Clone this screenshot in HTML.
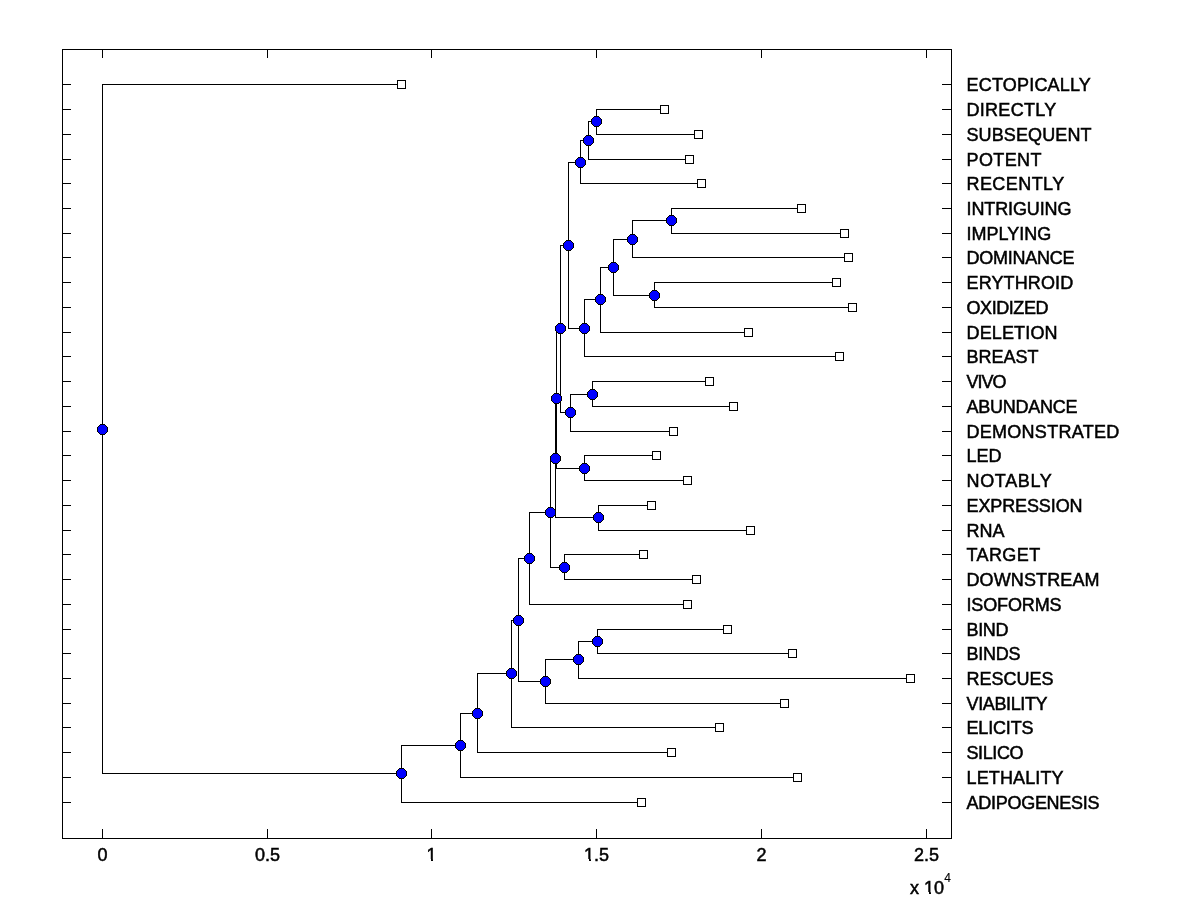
<!DOCTYPE html>
<html><head><meta charset="utf-8"><title>Phylogenetic tree</title>
<style>
html,body{margin:0;padding:0;background:#fff;}
body{width:1200px;height:900px;overflow:hidden;}
svg{display:block;}
text{font-family:"Liberation Sans",sans-serif;font-size:18px;fill:#000;stroke:#000;stroke-width:0.5px;}
</style></head><body>
<svg width="1200" height="900" viewBox="0 0 1200 900">
<rect x="0" y="0" width="1200" height="900" fill="#fff"/>
<path d="M62.5 49.5H951.5V838.5H62.5ZM102.5 838.5V829.5M102.5 49.5V57.5M267.5 838.5V829.5M267.5 49.5V57.5M431.5 838.5V829.5M431.5 49.5V57.5M596.5 838.5V829.5M596.5 49.5V57.5M761.5 838.5V829.5M761.5 49.5V57.5M926.5 838.5V829.5M926.5 49.5V57.5M62.5 84.5H70.5M951.5 84.5H942.5M62.5 109.5H70.5M951.5 109.5H942.5M62.5 134.5H70.5M951.5 134.5H942.5M62.5 159.5H70.5M951.5 159.5H942.5M62.5 183.5H70.5M951.5 183.5H942.5M62.5 208.5H70.5M951.5 208.5H942.5M62.5 233.5H70.5M951.5 233.5H942.5M62.5 257.5H70.5M951.5 257.5H942.5M62.5 282.5H70.5M951.5 282.5H942.5M62.5 307.5H70.5M951.5 307.5H942.5M62.5 332.5H70.5M951.5 332.5H942.5M62.5 356.5H70.5M951.5 356.5H942.5M62.5 381.5H70.5M951.5 381.5H942.5M62.5 406.5H70.5M951.5 406.5H942.5M62.5 431.5H70.5M951.5 431.5H942.5M62.5 455.5H70.5M951.5 455.5H942.5M62.5 480.5H70.5M951.5 480.5H942.5M62.5 505.5H70.5M951.5 505.5H942.5M62.5 530.5H70.5M951.5 530.5H942.5M62.5 554.5H70.5M951.5 554.5H942.5M62.5 579.5H70.5M951.5 579.5H942.5M62.5 604.5H70.5M951.5 604.5H942.5M62.5 629.5H70.5M951.5 629.5H942.5M62.5 653.5H70.5M951.5 653.5H942.5M62.5 678.5H70.5M951.5 678.5H942.5M62.5 703.5H70.5M951.5 703.5H942.5M62.5 727.5H70.5M951.5 727.5H942.5M62.5 752.5H70.5M951.5 752.5H942.5M62.5 777.5H70.5M951.5 777.5H942.5M62.5 802.5H70.5M951.5 802.5H942.5" fill="none" stroke="#000" stroke-width="1" stroke-linecap="square" shape-rendering="crispEdges"/>
<path d="M596.5 109.5V134.5M596.5 109.5H664.5M596.5 134.5H698.5M588.5 121.5V159.5M588.5 121.5H596.5M588.5 159.5H689.5M580.5 140.5V183.5M580.5 140.5H588.5M580.5 183.5H701.5M671.5 208.5V233.5M671.5 208.5H801.5M671.5 233.5H844.5M632.5 220.5V257.5M632.5 220.5H671.5M632.5 257.5H848.5M654.5 282.5V307.5M654.5 282.5H836.5M654.5 307.5H852.5M613.5 239.5V295.5M613.5 239.5H632.5M613.5 295.5H654.5M600.5 267.5V332.5M600.5 267.5H613.5M600.5 332.5H748.5M584.5 299.5V356.5M584.5 299.5H600.5M584.5 356.5H839.5M568.5 162.5V328.5M568.5 162.5H580.5M568.5 328.5H584.5M592.5 381.5V406.5M592.5 381.5H709.5M592.5 406.5H733.5M570.5 394.5V431.5M570.5 394.5H592.5M570.5 431.5H673.5M560.5 245.5V412.5M560.5 245.5H568.5M560.5 412.5H570.5M584.5 455.5V480.5M584.5 455.5H656.5M584.5 480.5H687.5M556.5 328.5V468.5M556.5 328.5H560.5M556.5 468.5H584.5M598.5 505.5V530.5M598.5 505.5H651.5M598.5 530.5H750.5M555.5 398.5V517.5M555.5 398.5H556.5M555.5 517.5H598.5M564.5 554.5V579.5M564.5 554.5H643.5M564.5 579.5H696.5M550.5 458.5V567.5M550.5 458.5H555.5M550.5 567.5H564.5M529.5 512.5V604.5M529.5 512.5H550.5M529.5 604.5H687.5M597.5 629.5V653.5M597.5 629.5H727.5M597.5 653.5H792.5M578.5 641.5V678.5M578.5 641.5H597.5M578.5 678.5H910.5M545.5 659.5V703.5M545.5 659.5H578.5M545.5 703.5H784.5M518.5 558.5V681.5M518.5 558.5H529.5M518.5 681.5H545.5M511.5 620.5V727.5M511.5 620.5H518.5M511.5 727.5H719.5M477.5 673.5V752.5M477.5 673.5H511.5M477.5 752.5H671.5M460.5 713.5V777.5M460.5 713.5H477.5M460.5 777.5H797.5M401.5 745.5V802.5M401.5 745.5H460.5M401.5 802.5H641.5M102.5 84.5V773.5M102.5 84.5H401.5M102.5 773.5H401.5" fill="none" stroke="#000" stroke-width="1" stroke-linecap="square" shape-rendering="crispEdges"/>
<defs><g id="mk" shape-rendering="crispEdges"><path d="M-2 -5H3V-4H4V-3H5V-2H6V3H5V4H4V5H3V6H-2V5H-3V4H-4V3H-5V-2H-4V-3H-3V-4H-2Z" fill="#000"/><path d="M-2 -4H3V-3H4V-2H5V3H4V4H3V5H-2V4H-3V3H-4V-2H-3V-3H-2Z" fill="#00f"/></g></defs>
<g><use href="#mk" x="596" y="121"/><use href="#mk" x="588" y="140"/><use href="#mk" x="580" y="162"/><use href="#mk" x="671" y="220"/><use href="#mk" x="632" y="239"/><use href="#mk" x="654" y="295"/><use href="#mk" x="613" y="267"/><use href="#mk" x="600" y="299"/><use href="#mk" x="584" y="328"/><use href="#mk" x="568" y="245"/><use href="#mk" x="592" y="394"/><use href="#mk" x="570" y="412"/><use href="#mk" x="560" y="328"/><use href="#mk" x="584" y="468"/><use href="#mk" x="556" y="398"/><use href="#mk" x="598" y="517"/><use href="#mk" x="555" y="458"/><use href="#mk" x="564" y="567"/><use href="#mk" x="550" y="512"/><use href="#mk" x="529" y="558"/><use href="#mk" x="597" y="641"/><use href="#mk" x="578" y="659"/><use href="#mk" x="545" y="681"/><use href="#mk" x="518" y="620"/><use href="#mk" x="511" y="673"/><use href="#mk" x="477" y="713"/><use href="#mk" x="460" y="745"/><use href="#mk" x="401" y="773"/><use href="#mk" x="102" y="429"/></g>
<g fill="#fff" stroke="#000" stroke-width="1" shape-rendering="crispEdges"><rect x="397.5" y="80.5" width="8" height="8"/><rect x="660.5" y="105.5" width="8" height="8"/><rect x="694.5" y="130.5" width="8" height="8"/><rect x="685.5" y="155.5" width="8" height="8"/><rect x="697.5" y="179.5" width="8" height="8"/><rect x="797.5" y="204.5" width="8" height="8"/><rect x="840.5" y="229.5" width="8" height="8"/><rect x="844.5" y="253.5" width="8" height="8"/><rect x="832.5" y="278.5" width="8" height="8"/><rect x="848.5" y="303.5" width="8" height="8"/><rect x="744.5" y="328.5" width="8" height="8"/><rect x="835.5" y="352.5" width="8" height="8"/><rect x="705.5" y="377.5" width="8" height="8"/><rect x="729.5" y="402.5" width="8" height="8"/><rect x="669.5" y="427.5" width="8" height="8"/><rect x="652.5" y="451.5" width="8" height="8"/><rect x="683.5" y="476.5" width="8" height="8"/><rect x="647.5" y="501.5" width="8" height="8"/><rect x="746.5" y="526.5" width="8" height="8"/><rect x="639.5" y="550.5" width="8" height="8"/><rect x="692.5" y="575.5" width="8" height="8"/><rect x="683.5" y="600.5" width="8" height="8"/><rect x="723.5" y="625.5" width="8" height="8"/><rect x="788.5" y="649.5" width="8" height="8"/><rect x="906.5" y="674.5" width="8" height="8"/><rect x="780.5" y="699.5" width="8" height="8"/><rect x="715.5" y="723.5" width="8" height="8"/><rect x="667.5" y="748.5" width="8" height="8"/><rect x="793.5" y="773.5" width="8" height="8"/><rect x="637.5" y="798.5" width="8" height="8"/></g>
<g style="filter:grayscale(1)"><text x="966.5" y="91" style="letter-spacing:0.200px">ECTOPICALLY</text><text x="966.5" y="116" style="letter-spacing:0.286px">DIRECTLY</text><text x="966.5" y="141" style="letter-spacing:0.111px">SUBSEQUENT</text><text x="966.5" y="166" style="letter-spacing:0.400px">POTENT</text><text x="966.5" y="190" style="letter-spacing:0.429px">RECENTLY</text><text x="966.5" y="215" style="letter-spacing:-0.111px">INTRIGUING</text><text x="966.5" y="240">IMPLYING</text><text x="966.5" y="264" style="letter-spacing:-0.250px">DOMINANCE</text><text x="966.5" y="289" style="letter-spacing:0.125px">ERYTHROID</text><text x="966.5" y="314" style="letter-spacing:-0.429px">OXIDIZED</text><text x="966.5" y="339" style="letter-spacing:0.143px">DELETION</text><text x="966.5" y="363">BREAST</text><text x="966.5" y="388" style="letter-spacing:-1.000px">VIVO</text><text x="966.5" y="413" style="letter-spacing:-0.250px">ABUNDANCE</text><text x="966.5" y="438" style="letter-spacing:0.273px">DEMONSTRATED</text><text x="966.5" y="462">LED</text><text x="966.5" y="487" style="letter-spacing:0.667px">NOTABLY</text><text x="966.5" y="512" style="letter-spacing:-0.111px">EXPRESSION</text><text x="966.5" y="537">RNA</text><text x="966.5" y="561" style="letter-spacing:0.400px">TARGET</text><text x="966.5" y="586" style="letter-spacing:0.111px">DOWNSTREAM</text><text x="966.5" y="611" style="letter-spacing:-0.143px">ISOFORMS</text><text x="966.5" y="636" style="letter-spacing:-0.333px">BIND</text><text x="966.5" y="660" style="letter-spacing:-0.250px">BINDS</text><text x="966.5" y="685">RESCUES</text><text x="966.5" y="710" style="letter-spacing:-0.375px">VIABILITY</text><text x="966.5" y="734" style="letter-spacing:-0.167px">ELICITS</text><text x="966.5" y="759" style="letter-spacing:-0.400px">SILICO</text><text x="966.5" y="784" style="letter-spacing:0.125px">LETHALITY</text><text x="966.5" y="809" style="letter-spacing:-0.273px">ADIPOGENESIS</text><text x="102.5" y="861" text-anchor="middle">0</text><text x="267.5" y="861" text-anchor="middle">0.5</text><text x="431.5" y="861" text-anchor="middle">1</text><text x="596.5" y="861" text-anchor="middle">1.5</text><text x="761.5" y="861" text-anchor="middle">2</text><text x="926.5" y="861" text-anchor="middle">2.5</text><text x="910" y="894">x 10</text><text x="944.3" y="882" style="font-size:12px;stroke-width:0.15px">4</text></g>
<g fill="#fff" shape-rendering="crispEdges"><path d="M426 859h5v2h-5zM433 859h5v2h-5zM426 861h12v1h-12zM583 859h6v2h-6zM591 859h3v2h-3zM583 861h11v1h-11zM923 892h6v2h-6zM931 892h3v2h-3zM923 894h11v1h-11z"/></g>
</svg>
</body></html>
